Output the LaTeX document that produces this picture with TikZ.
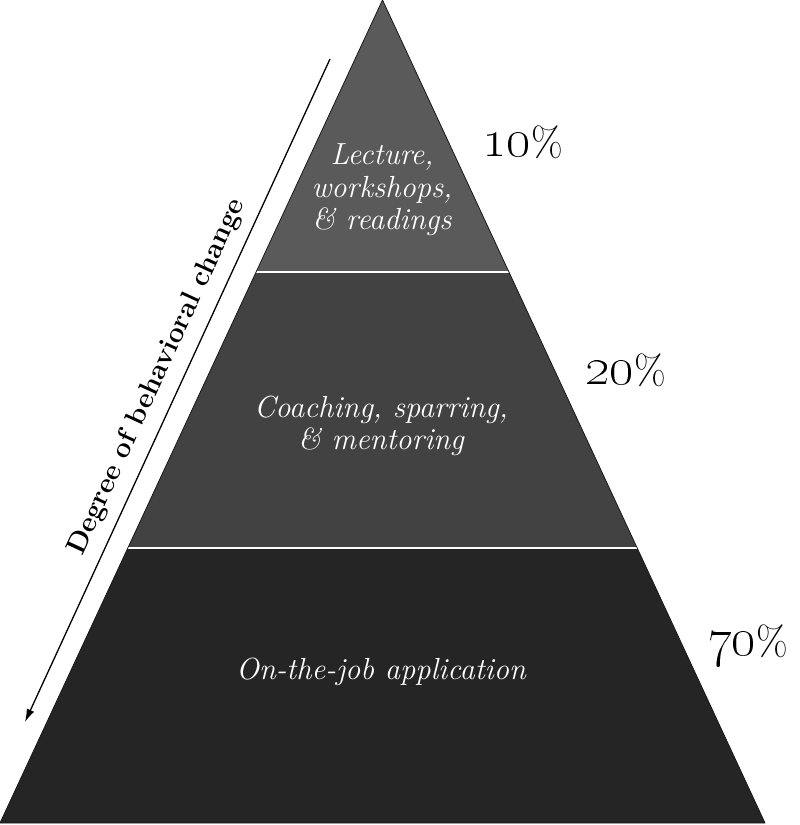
\documentclass[tikz,border=0pt]{standalone}
\usepackage{graphicx}
\usetikzlibrary{arrows.meta}
\definecolor{layertop}{HTML}{5A5A5A}
\definecolor{layermid}{HTML}{424242}
\definecolor{layerlow}{HTML}{252525}
\newcommand{\pctnum}[1]{\scalebox{2.17}{\fontsize{24.88}{25}\selectfont\oldstylenums{#1}}{\fontsize{41}{41}\selectfont\%}}
\tikzset{
  lbl/.style={text=white, align=center, font=\itshape\fontsize{30.5}{32.5}\selectfont},
  pct/.style={text=black, anchor=base west, inner sep=0pt},
}

\begin{document}
\begin{tikzpicture}[x=1pt,y=-1pt]
\useasboundingbox (0,0) rectangle (800,825);
\coordinate (apex) at (382.5,0);
\coordinate (l1) at (256.1,272);
\coordinate (r1) at (508.9,272);
\coordinate (l2) at (127.8,548);
\coordinate (r2) at (637.2,548);
\coordinate (bl) at (0,823);
\coordinate (br) at (765,823);
\fill[layertop] (apex) -- (r1) -- (l1) -- cycle;
\fill[layermid] (l1) -- (r1) -- (r2) -- (l2) -- cycle;
\fill[layerlow] (l2) -- (r2) -- (br) -- (bl) -- cycle;
\foreach \a/\b in {l1/r1,l2/r2}
\draw[white, line width=2.2pt] (\a) -- (\b);
\draw[black!90, line width=0.8pt, line join=round] (apex) -- (br) -- (bl) -- cycle;

\node[lbl] (lecture) at (382,190) {Lecture,\\ workshops,\\ \& readings};
\node[lbl] (coaching) at (381,426) {Coaching, sparring,\\ \& mentoring};
\node[lbl] (job) at (381,672) {On-the-job application};

\node[pct] (p10) at (482,156) {\pctnum{10}};
\node[pct] (p20) at (585,384) {\pctnum{20}};
\node[pct] (p70) at (707,655) {\pctnum{70}};

\coordinate (from) at (330,59);
\coordinate (to) at (25,722);
\draw[-{Latex[length=13pt,width=8pt]}, line width=1.3pt] (from) -- (to);
\node[rotate=65.3, font=\bfseries\fontsize{28}{30}\selectfont] (degree) at (157,377) {Degree of behavioral change};
\end{tikzpicture}
\end{document}
